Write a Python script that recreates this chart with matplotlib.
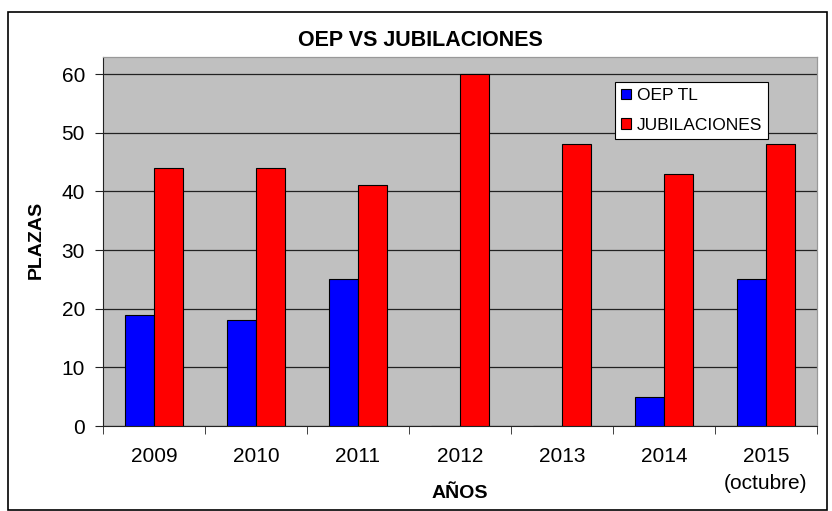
import matplotlib
matplotlib.use("Agg")
import matplotlib.pyplot as plt
import numpy as np
from matplotlib.patches import Rectangle

plt.rcParams['font.family'] = ['Liberation Sans', 'DejaVu Sans']

categories = ["2009", "2010", "2011", "2012", "2013", "2014", "2015\n(octubre)"]
oep_tl = [19, 18, 25, 0, 0, 5, 25]
jubilaciones = [44, 44, 41, 60, 48, 43, 48]
yticks = [0, 10, 20, 30, 40, 50, 60]

fig = plt.figure(figsize=(8.32, 5.11), dpi=100)
W, H = 832, 511
L, R, T, B = 103, 817, 57, 426
ax = fig.add_axes([L / W, 1 - B / H, (R - L) / W, (B - T) / H])
ax.set_facecolor("#C0C0C0")

x = np.arange(len(categories))
bw = 0.285
ax.bar(x - bw / 2, oep_tl, bw, color="#0000FF", edgecolor="black", linewidth=0.8,
       label="OEP TL", zorder=3)
ax.bar(x + bw / 2, jubilaciones, bw, color="#FF0000", edgecolor="black", linewidth=0.8,
       label="JUBILACIONES", zorder=3)

ax.set_xlim(-0.5, len(categories) - 0.5)
ax.set_ylim(0, 62.9)
ax.set_yticks(yticks)
ax.yaxis.grid(True, color="#222222", linewidth=0.9, zorder=1)
ax.set_axisbelow(True)
for s in ["top", "right"]:
    ax.spines[s].set_color("#999999")
    ax.spines[s].set_linewidth(0.9)
ax.spines["left"].set_color("#222222")
ax.spines["bottom"].set_color("#222222")

ax.set_xticks(x)
ax.set_xticklabels(categories, fontsize=15)
ax.tick_params(axis="x", length=0, pad=15)
ax.set_xticks(np.arange(-0.5, len(categories), 1), minor=True)
ax.tick_params(axis="x", which="minor", length=6, direction="out", color="#222222")
ax.tick_params(axis="y", labelsize=15, length=6, direction="out", pad=7, color="#222222")
for lbl in ax.get_xticklabels():
    lbl.set_linespacing(1.55)

fig.text(460 / W, 1 - 494 / H, "AÑOS", ha="center", va="center",
         fontsize=14, fontweight="bold")
fig.text(36 / W, 1 - 240 / H, "PLAZAS", ha="center", va="center", rotation=90,
         fontsize=14, fontweight="bold")
fig.text(420 / W, 1 - 40 / H, "OEP VS JUBILACIONES", ha="center",
         va="center", fontsize=15.5, fontweight="bold")

leg = ax.legend(loc="upper left", bbox_to_anchor=((615 - L) / (R - L), (B - 82) / (B - T)),
                fontsize=12.5, frameon=True, fancybox=False, edgecolor="black",
                framealpha=1, handlelength=0.55, handleheight=0.55, handletextpad=0.35,
                borderpad=0.35, labelspacing=0.85, borderaxespad=0)
leg.get_frame().set_linewidth(0.8)

fig.patches.append(Rectangle((8 / W, 1 / H), (827 - 8) / W, (510 - 12) / H,
                             transform=fig.transFigure, fill=False, edgecolor="black",
                             linewidth=1.2))

fig.savefig("out.png", dpi=100)
